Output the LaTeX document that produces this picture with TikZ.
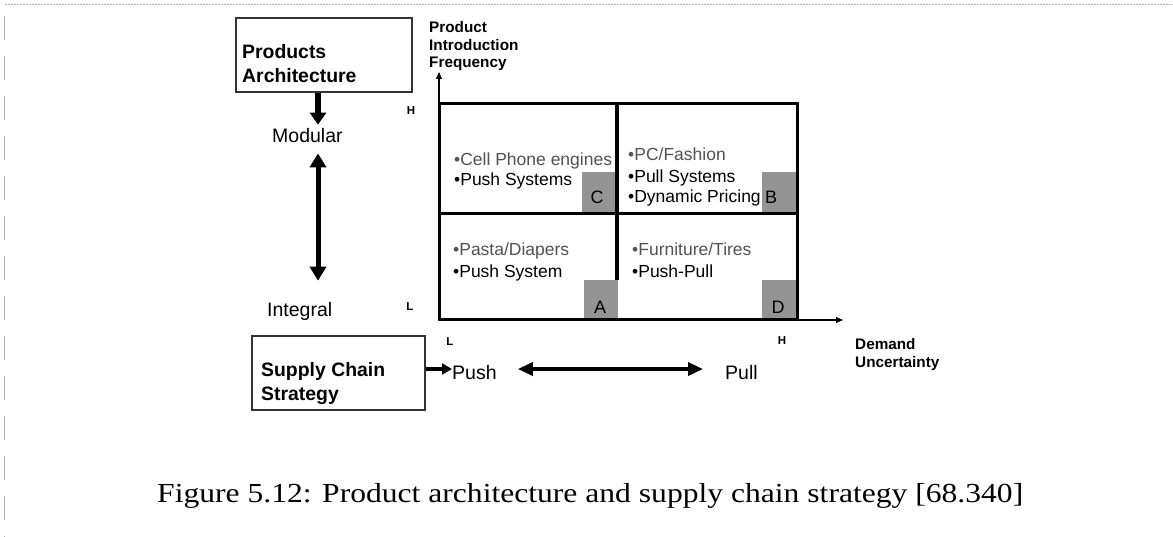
\documentclass[tikz,border=0pt]{standalone}
\usepackage{fontspec}
\usepackage{graphicx}
\usetikzlibrary{arrows.meta,calc}
\setmainfont{Liberation Sans}
\newfontfamily\capfont{Liberation Serif}

\tikzset{
  txt/.style={inner sep=0pt, anchor=base west, font=\fontsize{17.5}{21}\selectfont},
  txtlight/.style={txt, text=black!68},
  bigtxt/.style={inner sep=0pt, anchor=base west, font=\fontsize{19.5}{23}\selectfont},
  bigbold/.style={inner sep=0pt, anchor=base west, font=\fontsize{19.4}{23}\selectfont\bfseries},
  axbold/.style={inner sep=0pt, anchor=base west, font=\fontsize{15.3}{18}\selectfont\bfseries},
  tick/.style={inner sep=0pt, font=\fontsize{11.5}{13}\selectfont\bfseries},
  tag/.style={inner sep=0pt, font=\fontsize{18}{21}\selectfont},
  framebox/.style={draw=black!80, line width=1.4pt, inner sep=0pt},
  shade/.style={fill=black!42},
  gridline/.style={line width=3pt},
  axisline/.style={line width=1.3pt, -{Triangle[length=7pt,width=6pt]}},
  fatarrow/.style={line width=5.5pt, -{Triangle[length=12pt,width=16pt]}},
  fatboth/.style={line width=5pt, {Triangle[length=14pt,width=16pt]}-{Triangle[length=14pt,width=16pt]}},
  midboth/.style={line width=3.5pt, {Triangle[length=15pt,width=13pt]}-{Triangle[length=15pt,width=13pt]}},
  pointer/.style={line width=4pt, -{Triangle[length=10pt,width=11pt]}},
  edge/.style={draw=black!30, line width=1pt}
}

\begin{document}
\begin{tikzpicture}[x=1pt,y=-1pt]
\useasboundingbox (0,0) rectangle (1173,537);

% page edges
\draw[edge, dash pattern=on 2pt off 1pt] (5,5) -- (1173,5);
\draw[edge, line width=1.5pt, dash pattern=on 24pt off 16pt] (4.5,16) -- (4.5,537);

% left column: product architecture
\node[framebox, minimum width=176pt, minimum height=74pt] (pa) at (324,55) {};
\node[bigbold] (pa1) at (242,59) {Products};
\node[bigbold] (pa2) at (242,83) {Architecture};
\node[bigtxt] (mod) at (272,143) {Modular};
\node[bigtxt] (int) at (267,317) {Integral};
\draw[fatarrow] (pa.south -| 318,0) -- ([yshift=4pt]mod.north -| 318,0);
\draw[fatboth] ([yshift=-10pt]mod.south -| 318,0) -- ([yshift=22pt]int.north -| 318,0);

% supply chain strategy
\node[framebox, minimum width=173pt, minimum height=74pt] (sc) at (338.5,373) {};
\node[bigbold] (sc1) at (261,377) {Supply Chain};
\node[bigbold] (sc2) at (261,400) {Strategy};
\node[bigtxt] (push) at (452,380) {Push};
\node[bigtxt] (pull) at (725,380) {Pull};
\draw[pointer] ([yshift=4pt]sc.east) -- ([yshift=4pt]sc.east -| push.west);
\draw[midboth, shorten <=21pt, shorten >=22pt] ([yshift=4pt]push.east) -- ([yshift=4pt]pull.west);

% shaded corner tags
\fill[shade] (582,172) rectangle (615,213);
\fill[shade] (762,172) rectangle (796,213);
\fill[shade] (584,280) rectangle (618,320);
\fill[shade] (762,280) rectangle (797,320);
\node[tag] (tc) at (597,197) {C};
\node[tag] (tb) at (771,197) {B};
\node[tag] (ta) at (600,307) {A};
\node[tag] (td) at (778,307) {D};

% axes
\coordinate (o) at (439,320);
\coordinate (ytip) at (439,72);
\coordinate (xtip) at (843,320);
\draw[axisline] (o) -- (ytip);
\draw[axisline] (o) -- (xtip);

% quadrant grid
\draw[gridline] (439,104) rectangle (797,320);
\draw[gridline] (439,214) -- (797,214);
\draw[line width=4pt] (617,104) -- (617,280);

% axis titles and ends
\node[axbold] (yt1) at (429,33) {Product};
\node[axbold] (yt2) at (429,51) {Introduction};
\node[axbold] (yt3) at (429,68) {Frequency};
\node[axbold] (xt1) at (855,349) {Demand};
\node[axbold] (xt2) at (855,367) {Uncertainty};
\node[tick] (yh) at (411,111) {H};
\node[tick] (yl) at (410,307) {L};
\node[tick] (xl) at (450,342) {L};
\node[tick] (xh) at (782,341) {H};

% quadrant contents
\node[txtlight] (c1) at (454,166) {•Cell Phone engines};
\node[txt] (c2) at (454,186) {•Push Systems};
\node[txtlight] (b1) at (628,161) {•PC/Fashion};
\node[txt] (b2) at (628,183) {•Pull Systems};
\node[txt] (b3) at (628,203) {•Dynamic Pricing};
\node[txtlight] (a1) at (453,256) {•Pasta/Diapers};
\node[txt] (a2) at (453,278) {•Push System};
\node[txtlight] (d1) at (632,256) {•Furniture/Tires};
\node[txt] (d2) at (632,278) {•Push-Pull};

% caption
\node[inner sep=0pt, anchor=base west] (cap) at (157,502)
  {\resizebox{866pt}{\height}{\capfont\fontsize{27.5}{30}\selectfont Figure 5.12: Product architecture and supply chain strategy [68.340]}};
\end{tikzpicture}
\end{document}
